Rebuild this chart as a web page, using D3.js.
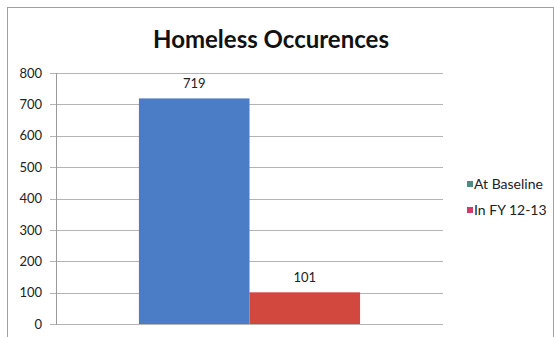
<!DOCTYPE html>
<html>
<head>
<meta charset="utf-8">
<script src="https://cdn.jsdelivr.net/npm/d3@7"></script>
<style>
  body { margin: 0; background: #fff; }
  svg { display: block; font-family: Lato, "Open Sans", sans-serif; }
</style>
</head>
<body>
<svg id="chart" width="554" height="337"></svg>
<script>
var categories = ["Homeless"];
var seriesNames = ["At Baseline", "In FY 12-13"];
var seriesValues = [719, 101];
var yTicks = [0, 100, 200, 300, 400, 500, 600, 700, 800];
var colors = ["#4a7dc5", "#d2483f"];
var legendColors = ["#4f8a83", "#d23a6a"];

var svg = d3.select("#chart"),
    margin = { top: 73, right: 111, bottom: 13, left: 56 },
    width = 554 - margin.left - margin.right,
    height = 337 - margin.top - margin.bottom;

// chart frame
svg.append("rect")
    .attr("x", 7.5).attr("y", 7.5)
    .attr("width", 546).attr("height", 340)
    .attr("fill", "#fff")
    .attr("stroke", "#a0a0a0");

svg.append("text")
    .attr("x", 271).attr("y", 48)
    .attr("text-anchor", "middle")
    .attr("font-size", 24)
    .attr("font-weight", "bold")
    .attr("fill", "#111")
    .text("Homeless Occurences");

var g = svg.append("g").attr("transform", "translate(" + margin.left + "," + margin.top + ")");

var x0 = d3.scaleBand().domain(categories).range([0, width]).paddingInner(0).paddingOuter(0.375);
var x1 = d3.scaleBand().domain(seriesNames).range([0, x0.bandwidth()]);
var y = d3.scaleLinear().domain([0, 800]).range([height, 0]);

// gridlines
g.append("g")
    .selectAll("line")
    .data(yTicks)
    .enter().append("line")
    .attr("x1", -6).attr("x2", width)
    .attr("y1", function (d) { return Math.round(y(d)) + 0.5; })
    .attr("y2", function (d) { return Math.round(y(d)) + 0.5; })
    .attr("stroke", "#b4b4b4");

var yAxis = g.append("g")
    .call(d3.axisLeft(y).tickValues(yTicks).tickSize(0).tickPadding(14));
yAxis.select(".domain").remove();
yAxis.selectAll("text")
    .attr("font-family", "Lato, 'Open Sans', sans-serif")
    .attr("font-size", 13)
    .attr("fill", "#222");

g.append("line")
    .attr("x1", 0.5).attr("x2", 0.5)
    .attr("y1", 0).attr("y2", height + 1)
    .attr("stroke", "#999");

var bars = g.append("g")
    .attr("transform", "translate(" + x0(categories[0]) + ",0)");

bars.selectAll("rect")
    .data(seriesValues)
    .enter().append("rect")
    .attr("x", function (d, i) { return x1(seriesNames[i]); })
    .attr("y", function (d) { return y(d); })
    .attr("width", x1.bandwidth())
    .attr("height", function (d) { return height - y(d); })
    .attr("fill", function (d, i) { return colors[i]; });

bars.selectAll("text")
    .data(seriesValues)
    .enter().append("text")
    .attr("x", function (d, i) { return x1(seriesNames[i]) + x1.bandwidth() / 2; })
    .attr("y", function (d) { return y(d) - 10; })
    .attr("text-anchor", "middle")
    .attr("font-size", 13)
    .attr("fill", "#222")
    .text(function (d) { return d; });

var legend = svg.append("g")
    .attr("font-size", 14)
    .selectAll("g")
    .data(seriesNames)
    .enter().append("g")
    .attr("transform", function (d, i) { return "translate(467," + (184 + i * 26) + ")"; });

legend.append("rect")
    .attr("x", 0).attr("y", -3)
    .attr("width", 6).attr("height", 6)
    .attr("fill", function (d, i) { return legendColors[i]; });

legend.append("text")
    .attr("x", 7)
    .attr("dy", "0.35em")
    .attr("fill", "#222")
    .text(function (d) { return d; });
</script>
</body>
</html>
